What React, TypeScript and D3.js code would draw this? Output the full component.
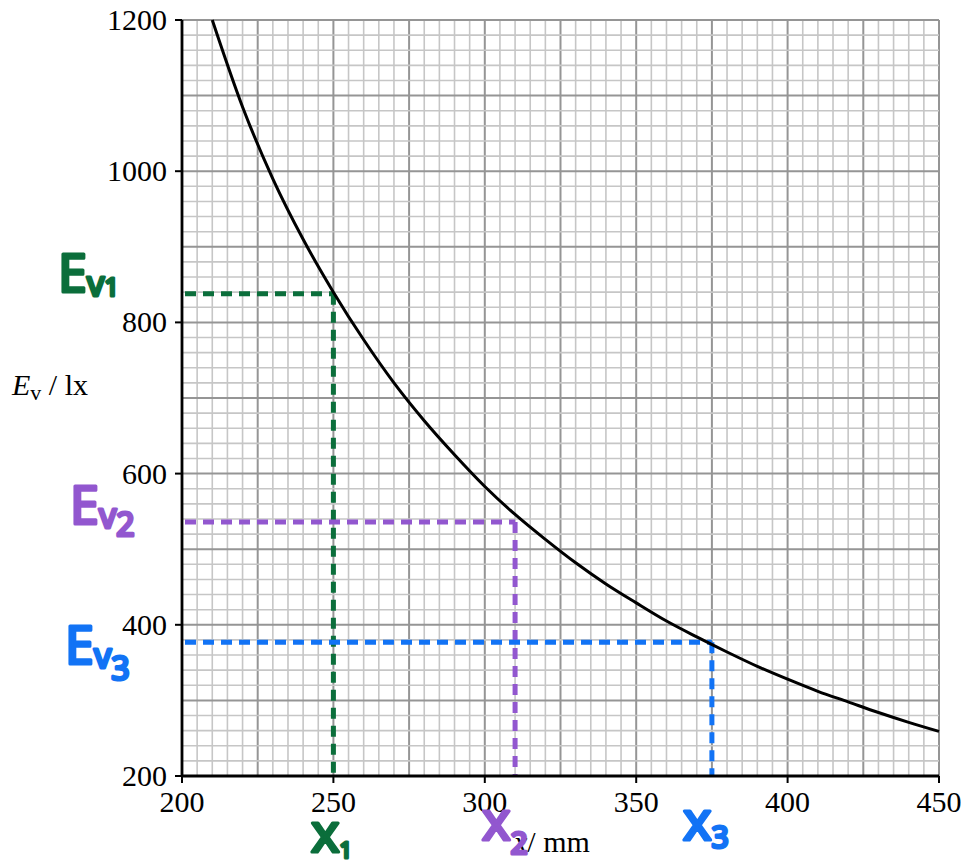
import React from "react";
import * as d3 from "d3";

const curveX = [210, 220, 230, 240, 250, 260, 270, 280, 290, 300, 310, 320, 330, 340, 350, 360, 370, 380, 390, 400, 410, 420, 430, 440, 450];
const curveY = [1200, 1085, 990, 910, 840, 777, 720, 670, 625, 583, 546, 513, 482, 454, 429, 405, 384, 364, 345, 328, 312, 298, 284, 271, 259];

const xTicks = [200, 250, 300, 350, 400, 450];
const yTicks = [200, 400, 600, 800, 1000, 1200];

const markX = [250, 310, 375];
const markY = [838, 536, 377];
const markColors = ["#0b6e3b", "#9257cf", "#1273f5"];
const markSubs = ["1", "2", "3"];

const W = 968, H = 867;
const L = 182, R = 939, T = 20, B = 776;

export default function App() {
  const x = d3.scaleLinear().domain([200, 450]).range([L, R]);
  const y = d3.scaleLinear().domain([200, 1200]).range([B, T]);

  const minorX = d3.range(200, 451, 5);
  const minorY = d3.range(200, 1201, 20);

  const line = d3
    .line<number>()
    .x((_, i) => x(curveX[i]))
    .y((d) => y(d))
    .curve(d3.curveMonotoneX);

  const serif = "'Liberation Serif', 'Times New Roman', Times, serif";
  const hand = "'Noto Sans', 'Open Sans', sans-serif";

  const eLabelPos = [
    { x: 58, y: 292 },
    { x: 70, y: 524 },
    { x: 65, y: 664 },
  ];
  const eSubDy = [[4, 0], [4, 8], [4, 12]];
  const xLabelPos = [
    { x: 311, y: 852 },
    { x: 482, y: 840 },
    { x: 683, y: 840 },
  ];
  const xSubDy = [6, 14, 8];

  return (
    <svg width={W} height={H} style={{ position: "absolute", left: 0, top: 0, background: "#fff" }}>
      <rect x={0} y={0} width={W} height={H} fill="#fff" />
      {/* grid */}
      {minorX.map((v) => (
        <line
          key={"gx" + v}
          x1={x(v)}
          x2={x(v)}
          y1={T}
          y2={B}
          stroke={v % 25 === 0 ? "#959595" : "#c6c6c6"}
          strokeWidth={v % 25 === 0 ? 2 : 1.6}
        />
      ))}
      {minorY.map((v) => (
        <line
          key={"gy" + v}
          x1={L}
          x2={R}
          y1={y(v)}
          y2={y(v)}
          stroke={v % 100 === 0 ? "#959595" : "#c6c6c6"}
          strokeWidth={v % 100 === 0 ? 2 : 1.6}
        />
      ))}
      {/* dashed guides */}
      {markX.map((mx, i) => (
        <g key={"m" + i} stroke={markColors[i]} strokeWidth={5} strokeDasharray="11,7" fill="none">
          <line x1={L + 3} x2={x(mx)} y1={y(markY[i])} y2={y(markY[i])} />
          <line x1={x(mx)} x2={x(mx)} y1={y(markY[i])} y2={B} />
        </g>
      ))}
      {/* curve */}
      <path d={line(curveY) || ""} fill="none" stroke="#000" strokeWidth={3} />
      {/* axes */}
      <line x1={L} x2={L} y1={T} y2={B + 1} stroke="#000" strokeWidth={2.8} />
      <line x1={L - 1} x2={R} y1={B} y2={B} stroke="#000" strokeWidth={2.8} />
      {xTicks.map((v) => (
        <g key={"xt" + v}>
          <line x1={x(v)} x2={x(v)} y1={B} y2={B + 7} stroke="#000" strokeWidth={2} />
          <text x={x(v)} y={812} textAnchor="middle" fontFamily={serif} fontSize={30} fill="#000">
            {v}
          </text>
        </g>
      ))}
      {yTicks.map((v) => (
        <g key={"yt" + v}>
          <line x1={L - 7} x2={L} y1={y(v)} y2={y(v)} stroke="#000" strokeWidth={2} />
          <text x={167} y={y(v) + 10} textAnchor="end" fontFamily={serif} fontSize={30} fill="#000">
            {v}
          </text>
        </g>
      ))}
      {/* axis labels */}
      <text x={12} y={395} fontFamily={serif} fontSize={30} fill="#000">
        <tspan fontStyle="italic">E</tspan>
        <tspan fontSize={22} dy={5}>v</tspan>
        <tspan dy={-5}> / lx</tspan>
      </text>
      <text x={514} y={852} fontFamily={serif} fontSize={30} fill="#000">
        <tspan fontStyle="italic">x</tspan>
        <tspan>/ mm</tspan>
      </text>
      {/* handwritten annotations */}
      {markColors.map((c, i) => (
        <text
          key={"el" + i}
          x={eLabelPos[i].x}
          y={eLabelPos[i].y}
          fill={c}
          stroke={c}
          strokeWidth={3.2}
          strokeLinejoin="round"
          strokeLinecap="round"
          fontFamily={hand}
          fontWeight="normal"
          fontSize={52}
        >
          <tspan>E</tspan>
          <tspan fontSize={34} dy={eSubDy[i][0]}>v</tspan>
          <tspan fontSize={i === 0 ? 26 : 32} dy={eSubDy[i][1]}>{markSubs[i]}</tspan>
        </text>
      ))}
      {markColors.map((c, i) => (
        <text
          key={"xl" + i}
          x={xLabelPos[i].x}
          y={xLabelPos[i].y}
          fill={c}
          stroke={c}
          strokeWidth={3.2}
          strokeLinejoin="round"
          strokeLinecap="round"
          fontFamily={hand}
          fontWeight="normal"
          fontSize={54}
        >
          <tspan>x</tspan>
          <tspan fontSize={i === 0 ? 22 : 30} dy={xSubDy[i]}>{markSubs[i]}</tspan>
        </text>
      ))}
    </svg>
  );
}
